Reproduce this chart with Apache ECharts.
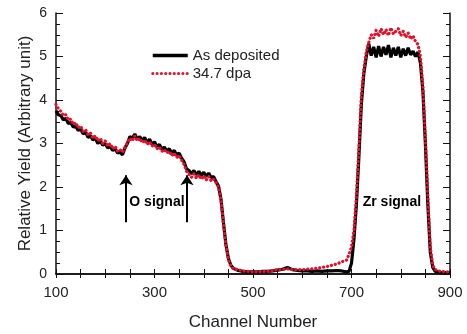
<!DOCTYPE html>
<html>
<head>
<meta charset="utf-8">
<script src="https://cdn.jsdelivr.net/npm/echarts@6/dist/echarts.min.js"></script>
<style>
  html, body { margin: 0; padding: 0; background: #fff; }
  #chart { width: 467px; height: 334px; }
</style>
</head>
<body>
<div id="chart"></div>
<script>
// 通道号 (channel number)
const channels = [
  100, 105, 110, 115, 120, 125, 130, 135, 140, 145, 150, 155, 160, 165, 170, 175, 180, 185, 190, 195,
  200, 205, 210, 215, 220, 225, 230, 235, 240, 245, 250, 255, 260, 265, 270, 275, 280, 285, 290, 295,
  300, 305, 310, 315, 320, 325, 330, 335, 340, 345, 350, 355, 360, 365, 370, 375, 380, 385, 390, 395,
  400, 405, 410, 415, 420, 425, 430, 435, 440, 445, 450, 455, 460,
  470, 480, 490, 500, 510, 520, 530, 540, 550, 560, 570, 580, 590, 600, 610, 620, 630, 640, 650, 660,
  670, 680, 690,
  695, 700, 705, 710, 715, 720, 725, 730, 735, 740, 745, 750, 755, 760, 765, 770, 775, 780, 785, 790,
  795, 800, 805, 810, 815, 820, 825, 830, 835, 840, 845, 850, 855, 860, 865, 870,
  880, 890, 900
]

// As deposited
const asDeposited = [
  3.75, 3.66, 3.64, 3.54, 3.58, 3.46, 3.48, 3.38, 3.40, 3.30, 3.34, 3.22, 3.26, 3.14, 3.18, 3.08, 3.12, 3.00, 3.06, 2.96,
  3.00, 2.90, 2.94, 2.84, 2.88, 2.78, 2.80, 2.74, 2.90, 3.00, 3.16, 3.12, 3.22, 3.10, 3.16, 3.06, 3.14, 3.02, 3.10, 2.98,
  3.04, 2.92, 2.98, 2.86, 2.92, 2.82, 2.88, 2.78, 2.84, 2.74, 2.78, 2.66, 2.58, 2.42, 2.38, 2.30, 2.38, 2.28, 2.36, 2.26,
  2.34, 2.24, 2.32, 2.22, 2.24, 2.12, 2.02, 1.72, 1.18, 0.68, 0.36, 0.20, 0.13,
  0.08, 0.06, 0.05, 0.05, 0.05, 0.06, 0.06, 0.07, 0.09, 0.11, 0.15, 0.10, 0.08, 0.07, 0.07, 0.06, 0.07, 0.06, 0.07, 0.07,
  0.08, 0.07, 0.05,
  0.06, 0.25, 0.80, 1.60, 2.70, 3.90, 4.60, 5.00, 5.30, 5.02, 5.22, 4.98, 5.24, 5.00, 5.22, 5.04, 5.26, 4.98, 5.20, 5.02,
  5.22, 4.98, 5.18, 5.02, 5.20, 5.04, 5.12, 5.00, 5.10, 4.85, 4.20, 3.00, 1.60, 0.50, 0.15, 0.06,
  0.04, 0.03, 0.03
]

// 34.7 dpa
const dpa347 = [
  3.90, 3.80, 3.74, 3.64, 3.66, 3.54, 3.56, 3.44, 3.48, 3.36, 3.40, 3.28, 3.32, 3.20, 3.24, 3.12, 3.18, 3.06, 3.12, 3.00,
  3.06, 2.94, 3.00, 2.88, 2.94, 2.82, 2.86, 2.80, 2.90, 3.02, 3.12, 3.06, 3.18, 3.06, 3.12, 3.02, 3.08, 2.98, 3.04, 2.94,
  2.98, 2.88, 2.92, 2.82, 2.86, 2.78, 2.82, 2.72, 2.78, 2.68, 2.72, 2.62, 2.52, 2.36, 2.30, 2.22, 2.30, 2.20, 2.28, 2.18,
  2.26, 2.16, 2.24, 2.14, 2.18, 2.10, 2.00, 1.70, 1.15, 0.66, 0.34, 0.18, 0.12,
  0.10, 0.07, 0.06, 0.05, 0.05, 0.06, 0.06, 0.08, 0.10, 0.10, 0.12, 0.10, 0.10, 0.10, 0.11, 0.12, 0.13, 0.15, 0.17, 0.20,
  0.23, 0.28, 0.32,
  0.45, 0.62, 1.00, 1.80, 2.90, 4.10, 4.70, 5.10, 5.32, 5.50, 5.42, 5.60, 5.46, 5.64, 5.50, 5.62, 5.48, 5.66, 5.52, 5.58,
  5.64, 5.48, 5.58, 5.44, 5.54, 5.40, 5.48, 5.34, 5.28, 5.00, 4.30, 3.10, 1.80, 0.60, 0.20, 0.10,
  0.06, 0.05, 0.05
]

// 标注 (annotations)
const arrowChannels = [242, 366]
const arrowRange = [1.19, 2.27]
const notes = [
  { name: 'O signal', coord: [305, 1.65] },
  { name: 'Zr signal', coord: [782, 1.65] }
]

const font = 'Liberation Sans, Arial, sans-serif'
const red = '#e3112d'

const toPairs = ys => channels.map((c, i) => [c, ys[i]])

const chart = echarts.init(document.getElementById('chart'))

const option = {
  animation: false,
  grid: { left: 56, right: 17, top: 13, bottom: 60, outerBoundsMode: 'none' },
  legend: {
    orient: 'vertical',
    left: 146,
    top: 43,
    itemWidth: 35,
    itemHeight: 10,
    itemGap: 3,
    itemStyle: { opacity: 0 },
    textStyle: { fontFamily: font, fontSize: 15, color: '#222' },
    data: [
      { name: 'As deposited', lineStyle: { color: '#000', width: 3.5 } },
      { name: '34.7 dpa', lineStyle: { color: red, width: 3, type: [0.1, 4.2], cap: 'round' } }
    ]
  },
  xAxis: [
    {
      type: 'value',
      min: 100,
      max: 900,
      interval: 50,
      name: 'Channel Number',
      nameLocation: 'middle',
      nameGap: 40,
      nameMoveOverlap: false,
      nameTextStyle: { fontFamily: font, fontSize: 17, color: '#222' },
      axisLine: { lineStyle: { color: '#111', width: 1.5 } },
      axisTick: { inside: true, length: 5, lineStyle: { color: '#111' } },
      axisLabel: {
        margin: 11,
        fontFamily: font,
        fontSize: 15,
        color: '#222',
        formatter: v => ((v - 100) % 200 === 0 ? String(v) : '')
      },
      splitLine: { show: false }
    },
    {
      type: 'value',
      position: 'top',
      min: 100,
      max: 900,
      interval: 50,
      axisLine: { lineStyle: { color: '#111', width: 1.5 } },
      axisTick: { inside: true, length: 4, lineStyle: { color: '#111' } },
      axisLabel: { show: false },
      splitLine: { show: false }
    }
  ],
  yAxis: [
    {
      type: 'value',
      min: 0,
      max: 6,
      interval: 1,
      name: 'Relative Yield (Arbitrary unit)',
      nameLocation: 'middle',
      nameGap: 22,
      nameMoveOverlap: false,
      nameTextStyle: { fontFamily: font, fontSize: 17, color: '#222' },
      axisLine: { show: true, lineStyle: { color: '#111', width: 1.5 } },
      axisTick: { inside: true, length: 7, lineStyle: { color: '#111' } },
      minorTick: { show: true, splitNumber: 4, length: 4, lineStyle: { color: '#111' } },
      axisLabel: { margin: 9, fontFamily: font, fontSize: 14, color: '#222' },
      splitLine: { show: false }
    },
    {
      type: 'value',
      position: 'right',
      min: 0,
      max: 6,
      interval: 1,
      axisLine: { show: true, lineStyle: { color: '#111', width: 1.5 } },
      axisTick: { inside: true, length: 7, lineStyle: { color: '#111' } },
      minorTick: { show: true, splitNumber: 4, length: 4, lineStyle: { color: '#111' } },
      axisLabel: { show: false },
      splitLine: { show: false }
    }
  ],
  series: [
    {
      name: 'As deposited',
      type: 'line',
      data: toPairs(asDeposited),
      showSymbol: false,
      symbol: 'none',
      lineStyle: { color: '#000', width: 3.2 },
      itemStyle: { color: '#000' },
      markLine: {
        silent: true,
        symbol: ['none', 'arrow'],
        symbolSize: 10,
        label: { show: false },
        lineStyle: { color: '#000', width: 2, type: 'solid' },
        data: arrowChannels.map(c => [{ coord: [c, arrowRange[0]] }, { coord: [c, arrowRange[1]] }])
      },
      markPoint: {
        silent: true,
        symbol: 'circle',
        symbolSize: 0,
        label: {
          show: true,
          position: 'inside',
          formatter: p => p.name,
          fontFamily: font,
          fontSize: 14,
          fontWeight: 'bold',
          color: '#000'
        },
        data: notes
      }
    },
    {
      name: '34.7 dpa',
      type: 'line',
      data: toPairs(dpa347),
      showSymbol: false,
      symbol: 'none',
      lineStyle: { color: red, width: 3.2, type: [0.1, 3.9], cap: 'round' },
      itemStyle: { color: red }
    }
  ]
}

chart.setOption(option)
</script>
</body>
</html>
